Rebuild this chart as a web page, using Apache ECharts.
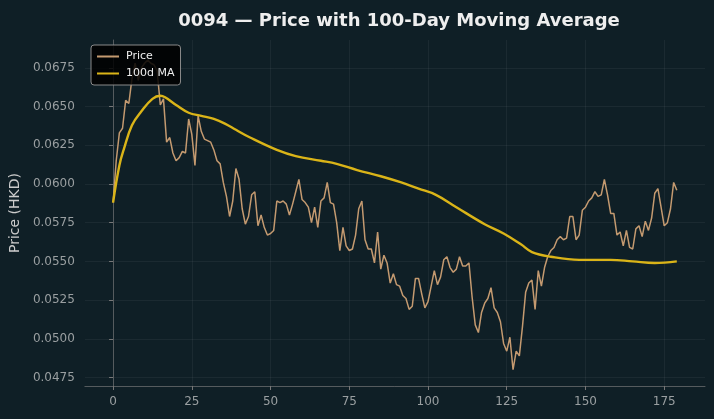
<!DOCTYPE html>
<html>
<head>
<meta charset="utf-8">
<script src="https://cdn.jsdelivr.net/npm/echarts@6/dist/echarts.min.js"></script>
<style>
  html, body { margin: 0; padding: 0; background: #0f1f26; }
  #chart { width: 714px; height: 419px; }
</style>
</head>
<body>
<div id="chart"></div>
<script>
// daily closing price, day 0..179
const price = [
  0.0588, 0.0615, 0.0633, 0.0636, 0.0654, 0.0652, 0.0668, 0.0678, 0.0667, 0.0675,
  0.0678, 0.0680, 0.0678, 0.0677, 0.0673, 0.0651, 0.0655, 0.0627, 0.0630, 0.0620,
  0.0615, 0.0617, 0.0621, 0.0620, 0.0642, 0.0632, 0.0612, 0.0644, 0.0634, 0.0629,
  0.0628, 0.0627, 0.0622, 0.0615, 0.0613, 0.0601, 0.0592, 0.0579, 0.0589, 0.0610,
  0.0603, 0.0584, 0.0574, 0.0579, 0.0593, 0.0595, 0.0573, 0.0580, 0.0572, 0.0567,
  0.0568, 0.0570, 0.0589, 0.0588, 0.0589, 0.0587, 0.0580, 0.0587, 0.0595, 0.0603,
  0.0590, 0.0588, 0.0585, 0.0575, 0.0585, 0.0572, 0.0589, 0.0591, 0.0601, 0.0588,
  0.0587, 0.0575, 0.0557, 0.0572, 0.0560, 0.0557, 0.0558, 0.0567, 0.0584, 0.0589,
  0.0564, 0.0558, 0.0558, 0.0549, 0.0569, 0.0545, 0.0554, 0.0549, 0.0536, 0.0542,
  0.0535, 0.0534, 0.0528, 0.0526, 0.0519, 0.0521, 0.0539, 0.0539, 0.0529, 0.0520,
  0.0524, 0.0534, 0.0544, 0.0535, 0.0540, 0.0551, 0.0553, 0.0546, 0.0543, 0.0545,
  0.0553, 0.0547, 0.0547, 0.0549, 0.0527, 0.0509, 0.0504, 0.0517, 0.0523, 0.0526,
  0.0533, 0.0520, 0.0517, 0.0511, 0.0497, 0.0492, 0.0501, 0.0480, 0.0492, 0.0489,
  0.0508, 0.0530, 0.0536, 0.0538, 0.0519, 0.0544, 0.0534, 0.0546, 0.0553, 0.0557,
  0.0559, 0.0564, 0.0566, 0.0564, 0.0565, 0.0579, 0.0579, 0.0564, 0.0567, 0.0583,
  0.0585, 0.0589, 0.0591, 0.0595, 0.0592, 0.0593, 0.0603, 0.0593, 0.0581, 0.0581,
  0.0567, 0.0569, 0.0560, 0.0570, 0.0559, 0.0558, 0.0571, 0.0573, 0.0566, 0.0576,
  0.0570, 0.0578, 0.0594, 0.0597, 0.0585, 0.0573, 0.0575, 0.0584, 0.0601, 0.0596
];

// 100-day moving average, read at [day, value]
const maPoints = [
  [0, 0.0588], [2, 0.0612], [3.5, 0.0623], [6, 0.0638], [9, 0.0647],
  [12.5, 0.0655], [15, 0.0657], [16.5, 0.0656], [20, 0.0651], [24, 0.0646],
  [28, 0.0644], [32, 0.0642], [35.5, 0.0639], [39, 0.0635], [43.5, 0.0630],
  [52, 0.0622], [58, 0.0618], [66, 0.0615], [71, 0.0613], [77.5, 0.0609],
  [85, 0.0605], [91.5, 0.0601], [97, 0.0597], [102.5, 0.0593], [109, 0.0585],
  [118, 0.0574], [124, 0.0568], [129.5, 0.0561], [133, 0.0556], [139, 0.0553],
  [148, 0.0551], [158, 0.0551], [165, 0.0550], [172, 0.0549], [179, 0.0550]
];

const xTicks = [0, 25, 50, 75, 100, 125, 150, 175];
const yTicks = [0.0475, 0.0500, 0.0525, 0.0550, 0.0575, 0.0600, 0.0625, 0.0650, 0.0675];

const chart = echarts.init(document.getElementById('chart'));

const axisText = { color: '#9a9fa1', fontSize: 12, fontFamily: 'DejaVu Sans' };

const option = {
  backgroundColor: '#0f1f26',
  animation: false,
  title: {
    text: '0094 — Price with 100-Day Moving Average',
    left: 394, top: 7, textAlign: 'center',
    textStyle: { color: '#eeeeee', fontSize: 18, fontWeight: 'bold', fontFamily: 'DejaVu Sans' }
  },
  legend: {
    orient: 'vertical',
    left: 91, top: 45,
    padding: [6, 6, 6, 6],
    itemGap: 6,
    itemWidth: 22, itemHeight: 2,
    icon: 'rect',
    backgroundColor: 'rgba(0,0,0,0.85)',
    borderColor: '#8a8a8a', borderWidth: 1, borderRadius: 3,
    textStyle: { color: '#eeeeee', fontSize: 11, fontFamily: 'DejaVu Sans', padding: [0, 0, 0, 2] },
    data: ['Price', '100d MA']
  },
  grid: { left: 84, right: 9, top: 40, bottom: 33 },
  xAxis: {
    type: 'value',
    min: -8.95, max: 187.95,
    axisLine: { lineStyle: { color: '#555b5e' } },
    axisTick: { length: 4, lineStyle: { color: '#777' }, customValues: xTicks },
    axisLabel: Object.assign({ margin: 10, customValues: xTicks }, axisText),
    splitLine: { show: true, lineStyle: { color: 'rgba(255,255,255,0.05)' } }
  },
  yAxis: {
    type: 'value',
    min: 0.04695, max: 0.0693,
    name: 'Price (HKD)',
    nameLocation: 'middle',
    nameGap: 62,
    nameTextStyle: { color: '#cccccc', fontSize: 14, fontFamily: 'DejaVu Sans' },
    axisLine: { show: true, lineStyle: { color: '#555b5e' } },
    axisTick: { show: true, length: 4, lineStyle: { color: '#777' }, customValues: yTicks },
    axisLabel: Object.assign({ margin: 10, customValues: yTicks, formatter: v => v.toFixed(4) }, axisText),
    splitLine: { show: true, lineStyle: { color: 'rgba(255,255,255,0.05)' } }
  },
  series: [
    {
      name: 'Price',
      type: 'line',
      symbol: 'none',
      color: '#c49a70',
      lineStyle: { width: 1.5, color: '#c49a70' },
      data: price.map((v, i) => [i, v]),
      z: 2
    },
    {
      name: '100d MA',
      type: 'line',
      symbol: 'none',
      smooth: 0.4,
      color: '#dab418',
      lineStyle: { width: 2.4, color: '#dab418' },
      data: maPoints,
      z: 3
    }
  ]
};

chart.setOption(option);
</script>
</body>
</html>
